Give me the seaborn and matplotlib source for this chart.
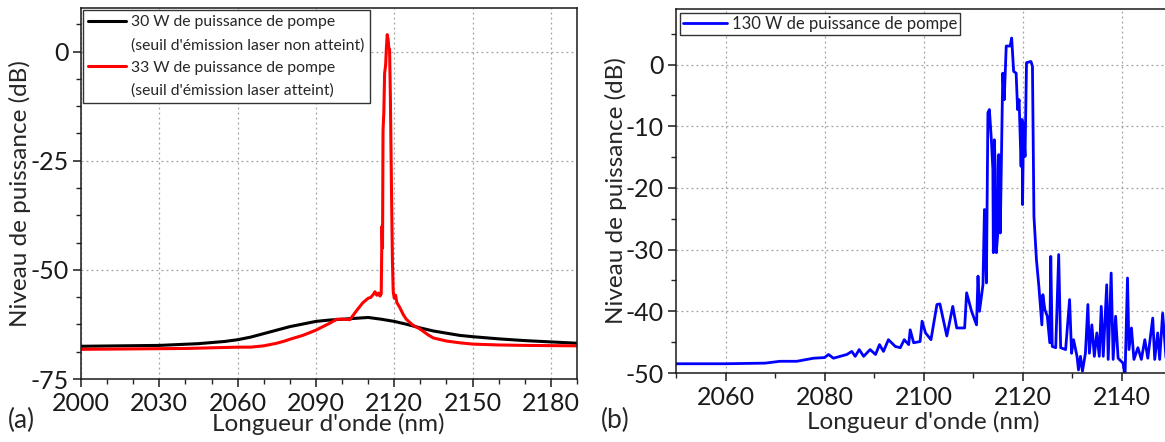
import numpy as np
import pandas as pd
import matplotlib
matplotlib.use("Agg")
import matplotlib.pyplot as plt
from matplotlib.lines import Line2D
from matplotlib.ticker import MultipleLocator
import seaborn as sns

# ----------------------------------------------------------------------------
# Data
# ----------------------------------------------------------------------------
# (a) 30 W pump, below lasing threshold
wl_30w = [2000, 2015, 2030, 2045, 2055, 2060, 2065, 2070, 2075, 2080, 2085,
          2090, 2095, 2100, 2105, 2110, 2115, 2120, 2125, 2130, 2135, 2140,
          2145, 2150, 2160, 2170, 2180, 2190]
p_30w = [-67.5, -67.4, -67.3, -66.9, -66.4, -66.0, -65.4, -64.6, -63.8, -63.0,
         -62.4, -61.8, -61.5, -61.3, -61.1, -60.9, -61.3, -61.8, -62.5, -63.3,
         -64.0, -64.5, -65.0, -65.3, -65.8, -66.2, -66.5, -66.8]

# (a) 33 W pump, lasing threshold reached
wl_33w = [2000, 2020, 2040, 2060, 2065, 2070, 2075, 2078, 2080, 2085, 2090,
          2095, 2098, 2100, 2103, 2104.5, 2106, 2108, 2110, 2111, 2112, 2112.6,
          2113.3, 2114, 2114.5, 2115, 2115.3, 2115.5, 2115.7, 2116, 2116.3,
          2116.7, 2117, 2117.3, 2117.6, 2117.9, 2118.2, 2118.5, 2118.9, 2119.3,
          2119.6, 2120, 2120.5, 2121, 2122, 2123.5, 2124.6, 2127, 2130, 2133,
          2135, 2140, 2145, 2150, 2160, 2170, 2190]
p_33w = [-68.2, -68.1, -68.0, -67.7, -67.7, -67.4, -66.8, -66.3, -65.9, -65.0,
         -63.8, -62.3, -61.3, -61.3, -61.4, -60.2, -59.0, -57.5, -56.5, -56.3,
         -55.6, -55.0, -55.8, -55.3, -56.0, -55.5, -40.0, -45.0, -18.0, -14.0,
         -5.0, -3.0, 1.0, 3.9, 3.0, 1.0, 0.5, -10.0, -30.0, -48.0, -55.0,
         -56.5, -55.8, -57.5, -58.5, -60.3, -61.3, -62.6, -63.6, -64.9, -65.6,
         -66.3, -66.7, -67.0, -67.2, -67.3, -67.4]

# (b) 130 W pump
wl_130w = [2050, 2060, 2068, 2071, 2074.4, 2077.8, 2080, 2080.8, 2081.8, 2084.5,
           2085.5, 2086.2, 2087, 2087.9, 2089.2, 2090.3, 2091.1, 2091.9, 2092.9,
           2094.3, 2095.3, 2096.1, 2097, 2097.3, 2098, 2099.3, 2099.7, 2100.4,
           2101.5, 2102.7, 2103.3, 2104.7, 2105.9, 2106.7, 2108.3, 2108.7,
           2109.7, 2110.7, 2111, 2111.3, 2112, 2112.3, 2112.7, 2113, 2113.3,
           2113.7, 2114, 2114.1, 2114.3, 2114.5, 2114.7, 2115, 2115.2, 2115.5,
           2116, 2116.3, 2116.7, 2117.5, 2117.8, 2118.2, 2118.7, 2119, 2119.3,
           2119.7, 2119.9, 2120, 2120.2, 2120.5, 2120.8, 2121.7, 2122, 2122.3,
           2122.8, 2123.3, 2123.9, 2124.1, 2124.5, 2125, 2125.5, 2125.7, 2126,
           2126.7, 2127.3, 2127.7, 2128.7, 2129.5, 2129.9, 2130.3, 2131, 2131.3,
           2131.7, 2132.1, 2132.7, 2133.2, 2133.5, 2134, 2134.5, 2135, 2135.5,
           2135.9, 2136.3, 2137, 2137.3, 2137.9, 2138.3, 2138.8, 2139.3, 2140.3,
           2140.7, 2141.2, 2141.5, 2142, 2142.5, 2143.3, 2144, 2144.7, 2145.3,
           2146.3, 2146.7, 2147.3, 2147.7, 2148.3, 2149, 2150]
p_130w = [-48.5, -48.5, -48.4, -48.1, -48.1, -47.6, -47.5, -47.0, -47.6, -47.0,
          -46.5, -47.3, -46.2, -47.3, -46.2, -47.0, -45.4, -46.5, -44.6, -45.7,
          -45.9, -44.6, -45.4, -43.0, -45.1, -44.9, -41.6, -43.5, -44.6, -38.9,
          -38.8, -44.0, -39.2, -42.7, -42.7, -37.0, -40.0, -42.2, -34.3, -40.0,
          -35.7, -23.5, -35.4, -7.8, -7.3, -12.2, -17.0, -30.5, -12.2, -17.0,
          -30.5, -27.3, -14.6, -27.3, -1.4, -5.7, 3.0, 3.0, 4.3, -1.1, -1.4,
          -7.3, -5.7, -16.5, -8.9, -22.7, -9.5, -14.9, 0.3, 0.5, -0.3, -24.6,
          -31.6, -36.0, -42.2, -37.3, -39.7, -40.8, -45.1, -31.1, -45.7, -45.9,
          -30.8, -45.9, -46.2, -38.1, -46.8, -44.6, -47.3, -49.5, -47.3, -49.7,
          -46.8, -38.9, -46.8, -42.2, -47.3, -43.5, -47.3, -39.2, -47.3, -35.7,
          -47.8, -33.8, -47.8, -40.8, -47.6, -48.4, -50.5, -34.6, -46.2, -42.7,
          -47.8, -45.9, -47.8, -44.6, -47.6, -41.1, -47.8, -43.5, -47.8, -40.3,
          -47.8, -47.6]

xticks_a = [2000, 2030, 2060, 2090, 2120, 2150, 2180]
yticks_a = [0, -25, -50, -75]

lbl_30w = ["30 W de puissance de pompe", "(seuil d'émission laser non atteint)"]
lbl_33w = ["33 W de puissance de pompe", "(seuil d'émission laser atteint)"]
lbl_130w = "130 W de puissance de pompe"

# ----------------------------------------------------------------------------
# Style
# ----------------------------------------------------------------------------
sns.set_style("ticks")
plt.rcParams['font.family'] = ['Lato', 'DejaVu Sans']
plt.rcParams['axes.linewidth'] = 1.1
plt.rcParams['axes.edgecolor'] = '#1a1a1a'
plt.rcParams['axes.unicode_minus'] = False

fig = plt.figure(figsize=(11.65, 4.42), dpi=100)
ax_a = fig.add_axes([0.0695, 0.1425, 0.4258, 0.8394])
ax_b = fig.add_axes([0.5803, 0.1561, 0.4249, 0.8235])

TICK_FS = 18
LABEL_FS = 17.5

# ----------------------------------------------------------------------------
# Panel (a)
# ----------------------------------------------------------------------------
df_30 = pd.DataFrame({'wl': wl_30w, 'p': p_30w})
df_33 = pd.DataFrame({'wl': wl_33w, 'p': p_33w})
sns.lineplot(data=df_30, x='wl', y='p', ax=ax_a, color='black', lw=2.2,
             sort=False, estimator=None)
sns.lineplot(data=df_33, x='wl', y='p', ax=ax_a, color='red', lw=2.2,
             sort=False, estimator=None)

ax_a.set_xlim(2000, 2190)
ax_a.set_ylim(-75, 10)
ax_a.set_xticks(xticks_a)
ax_a.set_yticks(yticks_a)
ax_a.xaxis.set_minor_locator(MultipleLocator(10))
ax_a.yaxis.set_minor_locator(MultipleLocator(6.25))

blank = Line2D([], [], color='none')
handles = [ax_a.lines[0], blank, ax_a.lines[1], blank]
labels = [lbl_30w[0], lbl_30w[1], lbl_33w[0], lbl_33w[1]]
leg_a = ax_a.legend(handles, labels, loc='upper left',
                    bbox_to_anchor=(0.004, 0.995), borderaxespad=0,
                    fontsize=11.3, handlelength=2.4, handletextpad=0.3,
                    labelspacing=0.55, fancybox=False, framealpha=1,
                    edgecolor='#333333', borderpad=0.35)
leg_a.get_frame().set_linewidth(1.0)

# ----------------------------------------------------------------------------
# Panel (b)
# ----------------------------------------------------------------------------
df_130 = pd.DataFrame({'wl': wl_130w, 'p': p_130w})
sns.lineplot(data=df_130, x='wl', y='p', ax=ax_b, color='#0000ff', lw=2.0,
             sort=False, estimator=None)

ax_b.set_xlim(2050, 2150)
ax_b.set_ylim(-50, 9)
ax_b.xaxis.set_major_locator(MultipleLocator(20))
ax_b.xaxis.set_minor_locator(MultipleLocator(10))
ax_b.yaxis.set_major_locator(MultipleLocator(10))
ax_b.yaxis.set_minor_locator(MultipleLocator(5))

leg_b = ax_b.legend([ax_b.lines[0]], [lbl_130w], loc='upper left',
                    bbox_to_anchor=(0.008, 0.99), borderaxespad=0,
                    fontsize=12, handlelength=2.6, handletextpad=0.3,
                    fancybox=False, framealpha=1, edgecolor='#333333',
                    borderpad=0.2)
leg_b.get_frame().set_linewidth(1.0)

# ----------------------------------------------------------------------------
# Shared axis cosmetics
# ----------------------------------------------------------------------------
for ax in (ax_a, ax_b):
    ax.grid(True, which='major', ls=(0, (1.5, 2.5)), color='#a0a0a0', lw=0.9)
    ax.set_axisbelow(True)
    ax.tick_params(which='major', direction='out', length=6, width=1.1,
                   labelsize=TICK_FS, pad=3, colors='#1a1a1a')
    ax.tick_params(which='minor', direction='out', length=3.5, width=1.0)
    ax.set_xlabel("Longueur d'onde (nm)", fontsize=LABEL_FS)
    ax.set_ylabel("Niveau de puissance (dB)", fontsize=LABEL_FS)
    for s in ax.spines.values():
        s.set_visible(True)

ax_a.xaxis.set_label_coords(0.498, -0.09)
ax_a.yaxis.set_label_coords(-0.1, 0.5)
ax_b.xaxis.set_label_coords(0.5, -0.105)
ax_b.yaxis.set_label_coords(-0.1, 0.5)

fig.text(8 / 1165, 1 - 420 / 442, "(a)", fontsize=19, va='center', ha='left')
fig.text(601 / 1165, 1 - 420 / 442, "(b)", fontsize=19, va='center', ha='left')

plt.savefig('out.png', dpi=100)
